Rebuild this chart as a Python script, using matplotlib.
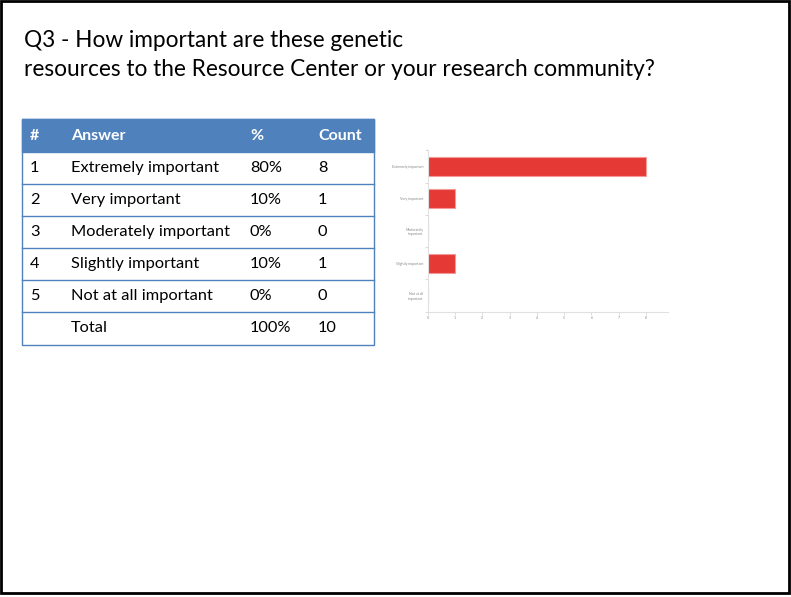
import matplotlib.pyplot as plt
from matplotlib.patches import Rectangle

plt.rcParams['font.family'] = ['Lato', 'DejaVu Sans']

# survey results
answers = ['Extremely important', 'Very important', 'Moderately important',
           'Slightly important', 'Not at all important']
chart_labels = ['Extremely important', 'Very important', 'Moderately\nimportant',
                'Slightly important', 'Not at all\nimportant']
percents = ['80%', '10%', '0%', '10%', '0%']
counts = [8, 1, 0, 1, 0]
total_pct = '100%'
total_count = 10

W, H = 791, 597
fig = plt.figure(figsize=(W / 100, H / 100), dpi=100)

# page canvas in pixel units
page = fig.add_axes([0, 0, 1, 1])
page.set_xlim(0, W)
page.set_ylim(H, 0)
page.axis('off')
page.add_patch(Rectangle((1, 1), 788, 592, fill=False, ec='black', lw=2))

page.text(24, 47, 'Q3 - How important are these genetic', fontsize=16.3, va='baseline')
page.text(24, 76, 'resources to the Resource Center or your research community?',
          fontsize=16.3, va='baseline')

# table
blue = '#4F81BD'
tx0, tx1 = 22, 374
row_edges = [119, 152, 184, 216, 248, 280, 312, 345]
col_x = [30, 71, 250, 318]
page.add_patch(Rectangle((tx0, row_edges[0]), tx1 - tx0, row_edges[1] - row_edges[0],
                         fc=blue, ec=blue, lw=1))
page.add_patch(Rectangle((tx0, row_edges[0]), tx1 - tx0, row_edges[-1] - row_edges[0],
                         fill=False, ec=blue, lw=1))
for y in row_edges[2:-1]:
    page.plot([tx0, tx1], [y, y], color=blue, lw=1)

header = ['#', 'Answer', '%', 'Count']
hy = (row_edges[0] + row_edges[1]) / 2
for x, h in zip(col_x, header):
    page.text(x, hy, h, color='white', fontweight='bold', fontsize=11.5, va='center')

rows = [[str(i + 1), a, p, str(c)] for i, (a, p, c) in enumerate(zip(answers, percents, counts))]
rows.append(['', 'Total', total_pct, str(total_count)])
for r, row in enumerate(rows):
    y = (row_edges[r + 1] + row_edges[r + 2]) / 2
    for x, val in zip(col_x, row):
        page.text(x, y, val, fontsize=11.8, va='center', color='black')

# bar chart
ax = fig.add_axes([427.7 / W, 1 - 311.7 / H, 240 / W, 161.3 / H])
ypos = list(range(len(counts)))
ax.barh(ypos, counts, height=0.6, color='#E53935', edgecolor='#F29A97', lw=0.8)
ax.set_xlim(0, 8.8)
ax.set_ylim(4.5, -0.5)
ax.set_xticks(range(9))
ax.set_yticks(ypos)
ax.set_yticklabels(chart_labels)
ax.set_yticks([y - 0.5 for y in range(6)], minor=True)
ax.tick_params(axis='y', which='major', length=0, labelsize=2.5, labelcolor='#888888', pad=3)
ax.tick_params(axis='y', which='minor', length=2, color='#cccccc', width=0.5)
ax.tick_params(axis='x', length=2, color='#cccccc', width=0.5, labelsize=2.5,
               labelcolor='#888888', pad=1)
for s in ['top', 'right']:
    ax.spines[s].set_visible(False)
for s in ['left', 'bottom']:
    ax.spines[s].set_color('#e0e0e0')
    ax.spines[s].set_linewidth(0.8)

fig.savefig('out.png', dpi=100)
